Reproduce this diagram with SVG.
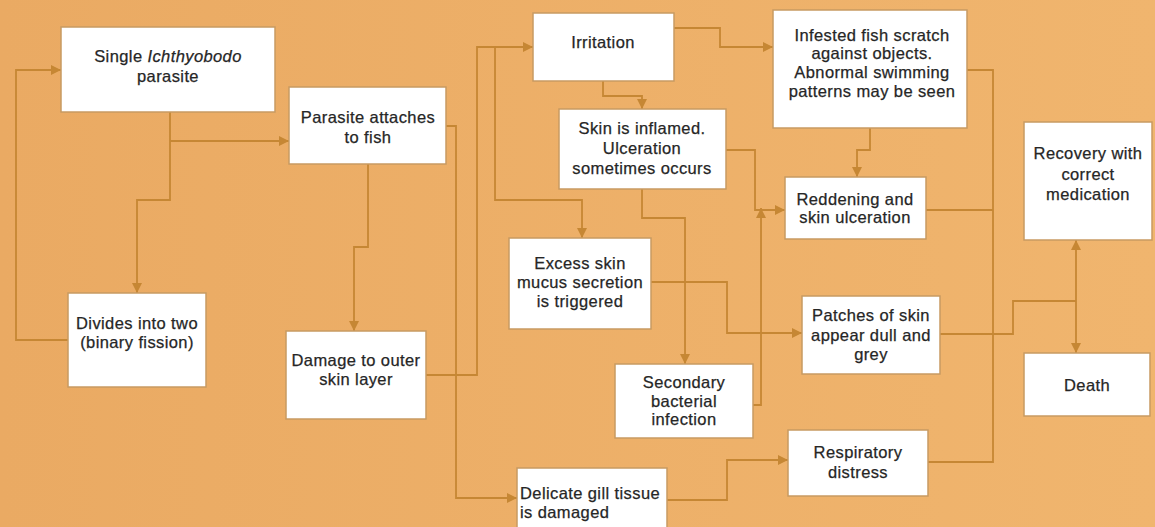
<svg xmlns="http://www.w3.org/2000/svg" width="1155" height="527" viewBox="0 0 1155 527">
<defs>
<linearGradient id="bg" x1="0" y1="0" x2="1" y2="0">
<stop offset="0" stop-color="#EAAA63"/>
<stop offset="1" stop-color="#F0B56E"/>
</linearGradient>
<marker id="ah" markerUnits="userSpaceOnUse" markerWidth="11" markerHeight="11" refX="10" refY="5.5" orient="auto">
<path d="M0,0.5 L10,5.5 L0,10.5 z" fill="#C68734"/>
</marker>
<style>
.box{fill:#FFFFFF;stroke:#C89A62;stroke-width:1.5}
.t{font-family:"Liberation Sans",Arial,sans-serif;font-size:16.5px;fill:#262626;stroke:#262626;stroke-width:0.25;text-anchor:middle;letter-spacing:0.4px}
.c path{fill:none;stroke:#C68734;stroke-width:1.8}
.arr{marker-end:url(#ah)}
</style>
</defs>
<rect x="0" y="0" width="1155" height="527" fill="url(#bg)"/>

<g id="connectors" class="c">
<path class="arr" d="M68,340 H16 V70 H61"/>
<path class="arr" d="M170,112 V200 H137 V293"/>
<path class="arr" d="M170,141 H289"/>
<path class="arr" d="M368,164 V247 H354 V331"/>
<path class="arr" d="M446,126 H456 V498 H517"/>
<path class="arr" d="M426,375 H477 V47 H533"/>
<path class="arr" d="M495,47 V200 H582 V238"/>
<path class="arr" d="M603,81 V96 H642 V109"/>
<path class="arr" d="M674,28 H720 V47 H773"/>
<path class="arr" d="M726,150 H755 V210 H785"/>
<path class="arr" d="M753,405 H761 V208"/>
<path class="arr" d="M642,189 V218 H685 V364"/>
<path class="arr" d="M651,282 H727 V333 H802"/>
<path class="arr" d="M666,500 H727 V460 H788"/>
<path class="arr" d="M870,128 V150 H857 V177"/>
<path d="M967,70 H993 V462 H928"/>
<path d="M926,210 H993"/>
<path d="M940,334 H1013 V301 H1076"/>
<path class="arr" d="M1076,301 V240"/>
<path class="arr" d="M1076,301 V353"/>
</g>

<g id="n-single">
<rect class="box" x="61" y="27" width="214" height="85"/>
<text class="t" x="168" y="62">Single <tspan font-style="italic">Ichthyobodo</tspan></text>
<text class="t" x="168" y="82">parasite</text>
</g>
<g id="n-attaches">
<rect class="box" x="289" y="87" width="157" height="77"/>
<text class="t" x="368" y="123">Parasite attaches</text>
<text class="t" x="368" y="143">to fish</text>
</g>
<g id="n-divides">
<rect class="box" x="68" y="293" width="138" height="94"/>
<text class="t" x="137" y="329">Divides into two</text>
<text class="t" x="137" y="348">(binary fission)</text>
</g>
<g id="n-damage">
<rect class="box" x="286" y="331" width="140" height="88"/>
<text class="t" x="356" y="366">Damage to outer</text>
<text class="t" x="356" y="385">skin layer</text>
</g>
<g id="n-irritation">
<rect class="box" x="533" y="13" width="141" height="68"/>
<text class="t" x="603" y="48">Irritation</text>
</g>
<g id="n-inflamed">
<rect class="box" x="559" y="109" width="167" height="80"/>
<text class="t" x="642" y="134">Skin is inflamed.</text>
<text class="t" x="642" y="154">Ulceration</text>
<text class="t" x="642" y="174">sometimes occurs</text>
</g>
<g id="n-mucus">
<rect class="box" x="509" y="238" width="142" height="91"/>
<text class="t" x="580" y="269">Excess skin</text>
<text class="t" x="580" y="288">mucus secretion</text>
<text class="t" x="580" y="307">is triggered</text>
</g>
<g id="n-secondary">
<rect class="box" x="615" y="364" width="138" height="74"/>
<text class="t" x="684" y="388">Secondary</text>
<text class="t" x="684" y="407">bacterial</text>
<text class="t" x="684" y="425">infection</text>
</g>
<g id="n-gill">
<rect class="box" x="517" y="468" width="150" height="64"/>
<text class="t" x="520" y="499" style="text-anchor:start">Delicate gill tissue</text>
<text class="t" x="520" y="518" style="text-anchor:start">is damaged</text>
</g>
<g id="n-scratch">
<rect class="box" x="773" y="10" width="194" height="118"/>
<text class="t" x="872" y="41">Infested fish scratch</text>
<text class="t" x="872" y="59">against objects.</text>
<text class="t" x="872" y="78">Abnormal swimming</text>
<text class="t" x="872" y="97">patterns may be seen</text>
</g>
<g id="n-reddening">
<rect class="box" x="785" y="177" width="141" height="62"/>
<text class="t" x="855" y="205">Reddening and</text>
<text class="t" x="855" y="223">skin ulceration</text>
</g>
<g id="n-recovery">
<rect class="box" x="1024" y="122" width="128" height="118"/>
<text class="t" x="1088" y="159">Recovery with</text>
<text class="t" x="1088" y="180">correct</text>
<text class="t" x="1088" y="200">medication</text>
</g>
<g id="n-patches">
<rect class="box" x="802" y="296" width="138" height="78"/>
<text class="t" x="871" y="321">Patches of skin</text>
<text class="t" x="871" y="341">appear dull and</text>
<text class="t" x="871" y="360">grey</text>
</g>
<g id="n-death">
<rect class="box" x="1024" y="353" width="126" height="63"/>
<text class="t" x="1087" y="391">Death</text>
</g>
<g id="n-respiratory">
<rect class="box" x="788" y="430" width="140" height="66"/>
<text class="t" x="858" y="458">Respiratory</text>
<text class="t" x="858" y="478">distress</text>
</g>
</svg>
